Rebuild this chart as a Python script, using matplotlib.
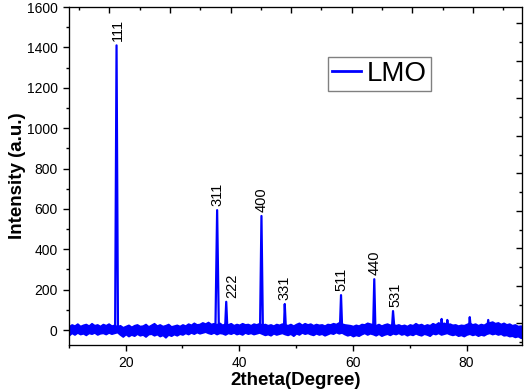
import matplotlib
matplotlib.use("Agg")
import matplotlib.pyplot as plt
from matplotlib.ticker import MultipleLocator, FixedLocator

plt.rcParams['font.family'] = ['Liberation Sans', 'DejaVu Sans']

# background noise envelope, read every 0.5 degree from 10 to 90
noise_hi = [18, 28, 22, 32, 20, 26, 30, 22, 34, 24, 28, 20, 30, 24, 32, 22, 26, 18, 24, 14,
            20, 26, 16, 24, 28, 20, 22, 30, 18, 26, 34, 22, 28, 20, 24, 30, 18, 22, 26, 20,
            28, 22, 32, 26, 36, 28, 30, 38, 32, 40, 30, 34, 28, 36, 26, 32, 28, 34, 24, 30,
            26, 34, 28, 30, 24, 32, 28, 34, 26, 30, 24, 28, 22, 30, 26, 32, 28, 24, 30, 22,
            30, 36, 26, 34, 28, 32, 24, 30, 26, 28, 22, 30, 28, 34, 30, 38, 32, 28, 26, 24,
            20, 26, 22, 30, 28, 36, 32, 28, 24, 30, 22, 28, 32, 26, 30, 24, 28, 22, 26, 20,
            28, 24, 34, 26, 30, 22, 28, 24, 34, 28, 38, 30, 36, 28, 32, 26, 28, 22, 26, 24,
            30, 36, 28, 32, 24, 30, 26, 34, 38, 42, 34, 38, 30, 36, 28, 32, 24, 28, 20, 22,
            16]
noise_lo = [-26, -14, -22, -12, -20, -16, -24, -14, -18, -12, -22, -16, -14, -20, -12, -18, -14, -10, -22, -32,
            -20, -30, -22, -28, -18, -26, -22, -32, -20, -18, -26, -20, -30, -24, -36, -22, -28, -20, -26, -18,
            -22, -14, -20, -12, -18, -10, -16, -12, -8, -14, -18, -12, -20, -14, -16, -22, -14, -18, -12, -20,
            -16, -22, -12, -18, -14, -20, -16, -12, -18, -24, -20, -26, -16, -22, -18, -14, -20, -24, -18, -28,
            -16, -22, -12, -18, -14, -20, -24, -16, -22, -18, -26, -20, -14, -18, -10, -16, -12, -20, -26, -22,
            -30, -24, -28, -20, -14, -22, -16, -20, -26, -18, -28, -22, -18, -24, -16, -20, -14, -22, -18, -26,
            -20, -24, -16, -22, -26, -18, -22, -28, -16, -20, -14, -22, -18, -14, -20, -24, -20, -28, -24, -30,
            -22, -18, -24, -20, -28, -22, -26, -18, -14, -20, -16, -22, -18, -26, -24, -30, -28, -34, -30, -38,
            -36]
grid_x = [10 + 0.5 * i for i in range(len(noise_hi))]

# peak profile (2theta, intensity)
profile_x = [10.0, 18.15, 18.4, 18.65, 35.8, 36.1, 36.4, 37.5, 37.7, 37.9,
             43.65, 43.9, 44.15, 47.85, 48.0, 48.2, 57.7, 57.9, 58.1,
             63.55, 63.75, 63.95, 66.85, 67.05, 67.3, 75.45, 75.6, 75.8,
             76.45, 76.6, 76.8, 80.4, 80.55, 80.75, 83.6, 83.8, 84.0, 90.0]
profile_y = [5, 5, 1410, 5, 8, 594, 10, 8, 140, 8,
             5, 565, 5, 5, 129, 5, 5, 173, 5,
             5, 252, 5, 5, 94, 5, 5, 55, 5,
             5, 50, 5, 5, 64, 5, 5, 50, 5, -10]

hkl_labels = ['111', '311', '222', '400', '331', '511', '440', '531']
hkl_x = [18.4, 36.1, 37.7, 43.9, 48.0, 57.9, 63.75, 67.05]
hkl_y = [1410, 594, 140, 565, 129, 173, 252, 94]
hkl_dx = [1, 0, 4, 0, 0, 0, 0, 2]


def main():
    fig = plt.figure(figsize=(5.26, 3.89), dpi=100)
    ax = fig.add_axes([0.1308, 0.1131, 0.8622, 0.8689])

    ax.fill_between(grid_x, noise_lo, noise_hi, color='#0000ff', lw=1.2)
    ax.plot(profile_x, profile_y, color='#0000ff', lw=1.6, label='LMO')

    for lab, x, y, dx in zip(hkl_labels, hkl_x, hkl_y, hkl_dx):
        ax.annotate(lab, (x, y), xytext=(dx, 3), textcoords='offset points',
                    rotation=90, ha='center', va='bottom', fontsize=10.5)

    ax.set_xlim(10, 89.8)
    ax.set_ylim(-74, 1600)
    ax.xaxis.set_major_locator(FixedLocator([20, 40, 60, 80]))
    ax.xaxis.set_minor_locator(FixedLocator([10, 30, 50, 70, 90]))
    ax.yaxis.set_major_locator(MultipleLocator(200))
    ax.yaxis.set_minor_locator(MultipleLocator(100))
    ax.tick_params(which='major', direction='out', length=4.5, width=1, labelsize=10)
    ax.tick_params(which='minor', direction='out', length=2.5, width=1)

    # mirrored frame ticks (their own spacing, no labels)
    top = ax.twiny()
    top.set_xlim(-0.337, 14.63)
    top.xaxis.set_major_locator(FixedLocator([1, 3, 5, 7, 9, 11, 13]))
    top.xaxis.set_minor_locator(FixedLocator([0, 2, 4, 6, 8, 10, 12, 14]))
    top.tick_params(which='both', direction='in', labeltop=False)
    top.tick_params(which='major', length=4, width=1)
    top.tick_params(which='minor', length=2.5, width=1)

    right = ax.twinx()
    right.set_ylim(-0.157, 17.87)
    right.yaxis.set_major_locator(FixedLocator(list(range(1, 18, 2))))
    right.yaxis.set_minor_locator(FixedLocator(list(range(0, 18, 2))))
    right.tick_params(which='both', direction='in', labelright=False)
    right.tick_params(which='major', length=4, width=1)
    right.tick_params(which='minor', length=2.5, width=1)

    ax.set_xlabel('2theta(Degree)', fontsize=13.5, fontweight='bold', labelpad=1)
    ax.set_ylabel('Intensity (a.u.)', fontsize=13.5, fontweight='bold', labelpad=0.5)

    leg = ax.legend(loc='upper left', bbox_to_anchor=(0.571, 0.852), fontsize=20,
                    handlelength=1.05, handletextpad=0.2, borderpad=0.15,
                    borderaxespad=0, fancybox=False, framealpha=1)
    leg.get_frame().set_edgecolor('#808080')
    leg.get_frame().set_linewidth(1)
    for h in leg.get_lines():
        h.set_linewidth(2)

    fig.savefig('out.png', dpi=100)


if __name__ == '__main__':
    main()
